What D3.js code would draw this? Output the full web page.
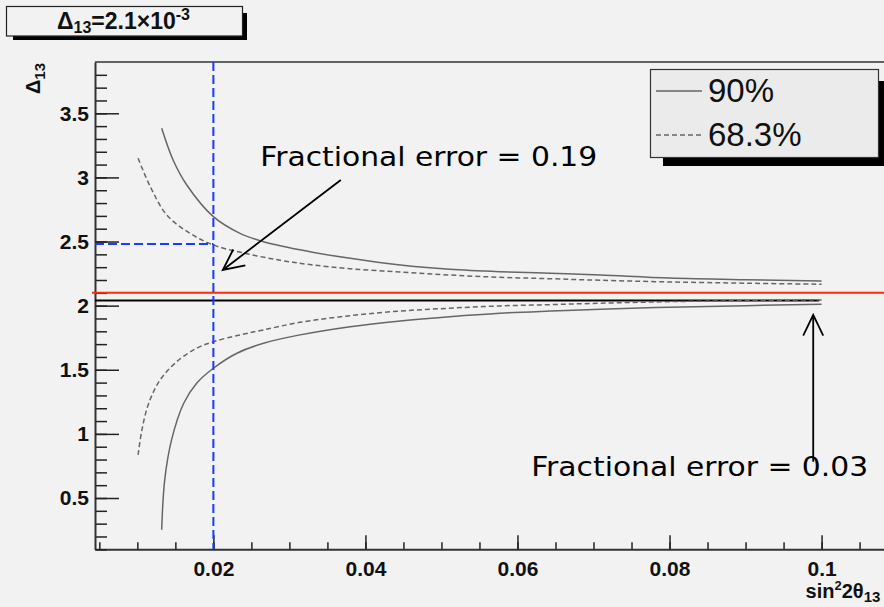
<!DOCTYPE html>
<html>
<head>
<meta charset="utf-8">
<script src="https://cdn.jsdelivr.net/npm/d3@7"></script>
<style>
  body { margin: 0; background: #f2f2f2; }
  svg { display: block; font-family: "Liberation Sans", Arial, sans-serif; }
</style>
</head>
<body>
<svg width="884" height="607"></svg>
<script>
// contour values: [sin^2 2theta13, Delta13]
const upper90 = [
  [0.0132, 3.383], [0.0147, 3.136], [0.0165, 2.941], [0.0200, 2.694], [0.0235, 2.564],
  [0.0266, 2.499], [0.0327, 2.421], [0.0380, 2.369], [0.0446, 2.317], [0.0511, 2.284],
  [0.0577, 2.265], [0.0643, 2.253], [0.0709, 2.239], [0.0800, 2.215], [0.0900, 2.202],
  [0.1000, 2.193]
];
const upper68 = [
  [0.0101, 3.149], [0.0117, 2.928], [0.0139, 2.705], [0.0169, 2.565], [0.0200, 2.473],
  [0.0244, 2.405], [0.0288, 2.354], [0.0327, 2.320], [0.0380, 2.288], [0.0446, 2.262],
  [0.0511, 2.239], [0.0577, 2.221], [0.0643, 2.210], [0.0709, 2.198], [0.0800, 2.185],
  [0.0900, 2.175], [0.1000, 2.167]
];
const lower68 = [
  [0.0101, 0.836], [0.0106, 1.031], [0.0115, 1.239], [0.0130, 1.421], [0.0152, 1.564],
  [0.0178, 1.668], [0.0200, 1.719], [0.0235, 1.772], [0.0266, 1.811], [0.0314, 1.870],
  [0.0380, 1.922], [0.0446, 1.958], [0.0511, 1.980], [0.0577, 1.998], [0.0643, 2.008],
  [0.0709, 2.019], [0.0800, 2.031], [0.0900, 2.039], [0.1000, 2.045]
];
const lower90 = [
  [0.0132, 0.252], [0.0136, 0.641], [0.0145, 0.953], [0.0161, 1.239], [0.0178, 1.395],
  [0.0200, 1.512], [0.0231, 1.629], [0.0266, 1.707], [0.0314, 1.772], [0.0380, 1.836],
  [0.0446, 1.881], [0.0511, 1.914], [0.0577, 1.941], [0.0643, 1.958], [0.0709, 1.972],
  [0.0800, 1.988], [0.0900, 2.000], [0.1000, 2.011]
];

const xTicks = [0.02, 0.04, 0.06, 0.08, 0.1];
const yTicks = [0.5, 1, 1.5, 2, 2.5, 3, 3.5];
const xDomain = [0.00443, 0.109];
const yDomain = [0.1, 3.9];

const trueDelta = 2.1;      // red line
const fitDelta = 2.04;      // black line
const fitEnd = 0.0997;
const markX = 0.02;         // blue dashed guides
const markY = 2.48;

const legendLabels = ["90%", "68.3%"];
const notes = [
  { text: "Fractional error = 0.19", x: 0.02617, y: 3.089, from: [0.03676, 2.98], to: [0.02124, 2.278] },
  { text: "Fractional error = 0.03", x: 0.0618, y: 0.673, from: [0.0989, 0.782], to: [0.0989, 1.928] }
];

const svg = d3.select("svg");
svg.append("rect").attr("width", 884).attr("height", 607).attr("fill", "#f2f2f2");

const x = d3.scaleLinear().domain(xDomain).range([95, 890]);
const y = d3.scaleLinear().domain(yDomain).range([549.3, 62]);

// frame top line
svg.append("line")
  .attr("x1", x.range()[0]).attr("x2", x.range()[1])
  .attr("y1", y.range()[1]).attr("y2", y.range()[1])
  .attr("stroke", "#333").attr("stroke-width", 1.5);

// axes
const tickFont = g => g.selectAll("text")
  .attr("font-family", "'Liberation Sans', Arial, sans-serif")
  .attr("font-weight", "bold").attr("font-size", 21).attr("fill", "#111");

svg.append("g")
  .attr("transform", `translate(0,${y.range()[0]})`)
  .call(d3.axisBottom(x).tickValues(d3.range(0.005, 0.109, 0.005)).tickSize(-7).tickFormat(""))
  .call(g => g.select(".domain").remove())
  .selectAll("line").attr("stroke", "#222").attr("stroke-width", 1.5);

svg.append("g")
  .attr("transform", `translate(0,${y.range()[0]})`)
  .call(d3.axisBottom(x).tickValues(xTicks).tickSize(-14).tickSizeOuter(0).tickPadding(12).tickFormat(d3.format("~g")))
  .call(tickFont)
  .call(g => g.select(".domain").attr("stroke", "#333").attr("stroke-width", 2))
  .call(g => g.selectAll(".tick line").attr("stroke", "#222").attr("stroke-width", 1.5));

svg.append("g")
  .attr("transform", `translate(${x.range()[0]},0)`)
  .call(d3.axisLeft(y).tickValues(d3.range(0.1, 3.9, 0.1)).tickSize(-12).tickFormat(""))
  .call(g => g.select(".domain").remove())
  .selectAll("line").attr("stroke", "#222").attr("stroke-width", 1.5);

svg.append("g")
  .attr("transform", `translate(${x.range()[0]},0)`)
  .call(d3.axisLeft(y).tickValues(yTicks).tickSize(-24).tickSizeOuter(0).tickPadding(6).tickFormat(d3.format("~g")))
  .call(tickFont)
  .call(g => g.select(".domain").attr("stroke", "#333").attr("stroke-width", 2))
  .call(g => g.selectAll(".tick line").attr("stroke", "#222").attr("stroke-width", 1.5));

// axis titles
const xt = svg.append("text")
  .attr("x", x(0.1) - 16).attr("y", 598)
  .attr("font-weight", "bold").attr("font-size", 20).attr("fill", "#111");
xt.append("tspan").text("sin");
xt.append("tspan").attr("dy", -8).attr("font-size", 13).text("2");
xt.append("tspan").attr("dy", 8).text("2θ");
xt.append("tspan").attr("dy", 4).attr("font-size", 15).text("13");

const yt = svg.append("text")
  .attr("transform", `translate(40,${y.range()[1] + 1}) rotate(-90)`)
  .attr("text-anchor", "end")
  .attr("font-weight", "bold").attr("font-size", 20).attr("fill", "#111");
yt.append("tspan").text("Δ");
yt.append("tspan").attr("dy", 5).attr("font-size", 15).text("13");

// reference lines
svg.append("line")
  .attr("x1", x.range()[0] - 3).attr("x2", 884)
  .attr("y1", y(trueDelta)).attr("y2", y(trueDelta))
  .attr("stroke", "#ff2a0a").attr("stroke-width", 2);

svg.append("line")
  .attr("x1", x.range()[0]).attr("x2", x(fitEnd))
  .attr("y1", y(fitDelta)).attr("y2", y(fitDelta))
  .attr("stroke", "#000").attr("stroke-width", 2);

// contours
const line = d3.line().x(d => x(d[0])).y(d => y(d[1])).curve(d3.curveCatmullRom.alpha(0.5));
[[upper90, null], [lower90, null], [upper68, "5,3"], [lower68, "5,3"]].forEach(([data, dash]) => {
  svg.append("path")
    .datum(data)
    .attr("fill", "none")
    .attr("stroke", "#666")
    .attr("stroke-width", 1.5)
    .attr("stroke-dasharray", dash)
    .attr("d", line);
});

// blue guides
svg.append("line")
  .attr("x1", x(markX)).attr("x2", x(markX))
  .attr("y1", y.range()[1]).attr("y2", y.range()[0])
  .attr("stroke", "#1a3cff").attr("stroke-width", 2).attr("stroke-dasharray", "9,4");
svg.append("line")
  .attr("x1", x.range()[0]).attr("x2", x(markX))
  .attr("y1", y(markY)).attr("y2", y(markY))
  .attr("stroke", "#1a3cff").attr("stroke-width", 2).attr("stroke-dasharray", "9,4");

// annotations
notes.forEach(n => {
  svg.append("text")
    .attr("x", x(n.x)).attr("y", y(n.y))
    .attr("font-family", "'DejaVu Sans', sans-serif")
    .attr("font-size", 27)
    .attr("textLength", 337).attr("lengthAdjust", "spacingAndGlyphs")
    .attr("fill", "#000")
    .text(n.text);

  const x0 = x(n.from[0]), y0 = y(n.from[1]), x1 = x(n.to[0]), y1 = y(n.to[1]);
  const a = Math.atan2(y0 - y1, x0 - x1), len = 23, spread = 0.45;
  const w1 = [x1 + len * Math.cos(a + spread), y1 + len * Math.sin(a + spread)];
  const w2 = [x1 + len * Math.cos(a - spread), y1 + len * Math.sin(a - spread)];
  svg.append("path")
    .attr("d", `M${x0},${y0}L${x1},${y1}M${w1}L${x1},${y1}L${w2}`)
    .attr("fill", "none").attr("stroke", "#000").attr("stroke-width", 1.8);
});

// legend
svg.append("rect").attr("x", 663).attr("y", 81).attr("width", 230).attr("height", 85).attr("fill", "#000");
svg.append("rect").attr("x", 650.5).attr("y", 69.5).attr("width", 228).attr("height", 88)
  .attr("fill", "#ebebeb").attr("stroke", "#333").attr("stroke-width", 1.2);
legendLabels.forEach((lab, i) => {
  const ly = 91 + i * 44;
  svg.append("line")
    .attr("x1", 656).attr("x2", 702).attr("y1", ly).attr("y2", ly)
    .attr("stroke", "#222").attr("stroke-width", 1.2)
    .attr("stroke-dasharray", i ? "5,3" : null);
  svg.append("text")
    .attr("x", 708).attr("y", ly + 11)
    .attr("font-size", 33).attr("fill", "#111")
    .text(lab);
});

// title box
svg.append("rect").attr("x", 13).attr("y", 13).attr("width", 234).attr("height", 27).attr("fill", "#000");
svg.append("rect").attr("x", 6.5).attr("y", 6.5).attr("width", 236).attr("height", 29.5)
  .attr("fill", "#f2f2f2").attr("stroke", "#222").attr("stroke-width", 1.2);
const tt = svg.append("text")
  .attr("x", 57).attr("y", 29)
  .attr("font-weight", "bold").attr("font-size", 23).attr("fill", "#111");
tt.append("tspan").text("Δ");
tt.append("tspan").attr("dy", 4).attr("font-size", 16).text("13");
tt.append("tspan").attr("dy", -4).text("=2.1×10");
tt.append("tspan").attr("dy", -9).attr("font-size", 16).text("-3");
</script>
</body>
</html>
